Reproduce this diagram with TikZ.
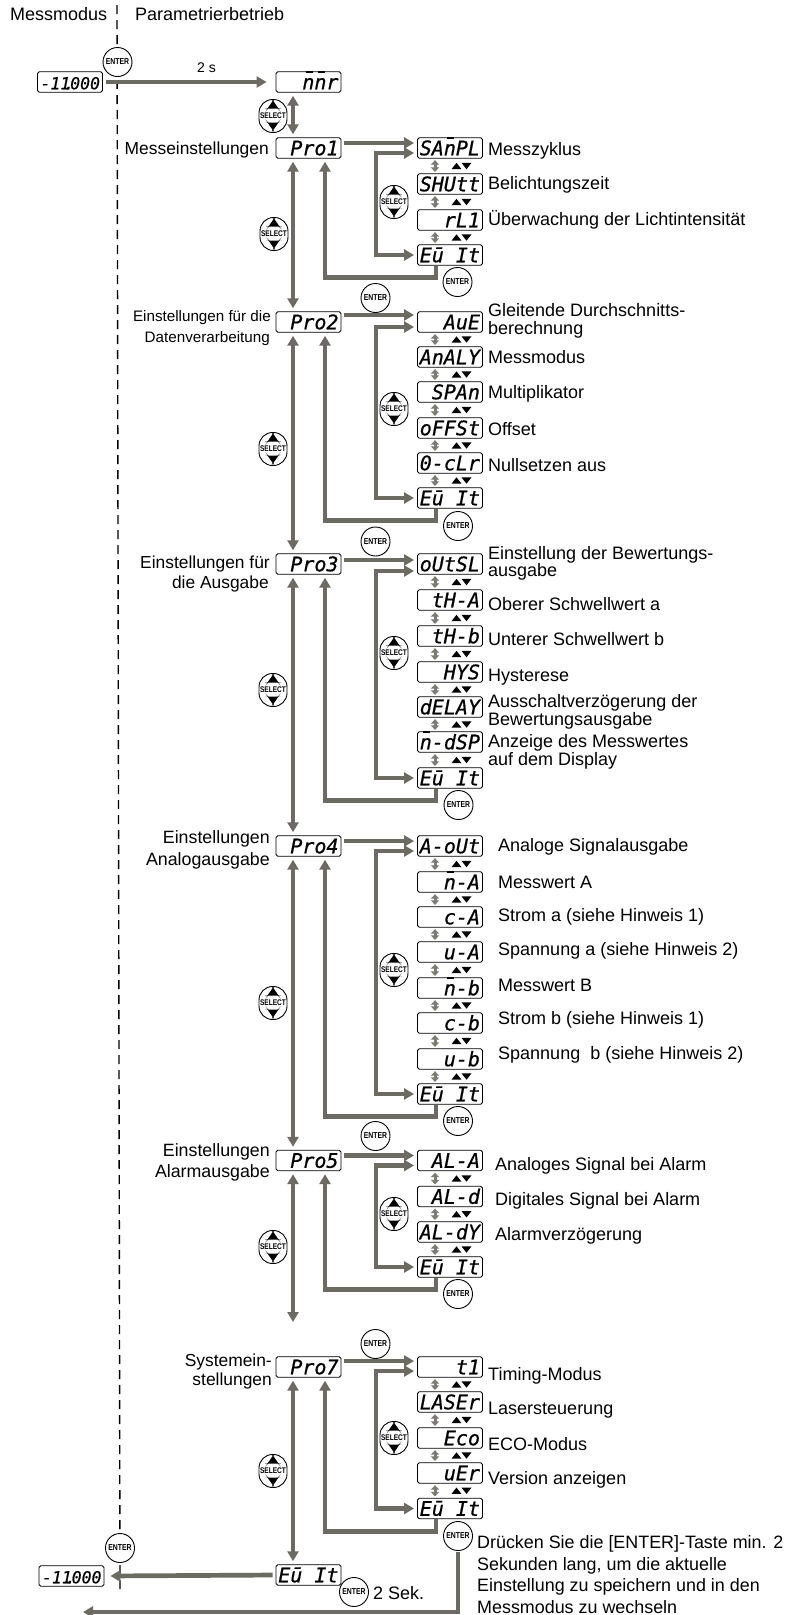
\documentclass[tikz,border=0pt]{standalone}
\usepackage{fontspec}
\usetikzlibrary{arrows.meta,calc}
\setmainfont{Liberation Sans}
\newfontfamily\btnfam[FakeStretch=0.8]{Liberation Sans}
\newfontfamily\dispfam[FakeBold=0.7]{DejaVu Sans Mono}
\newcommand\labfont{\fontsize{18}{17.5}\selectfont}
\newcommand\dispfont{\dispfam\itshape\fontsize{20}{20}\selectfont}
\newcommand\startval{{\fontsize{16.5}{20}\selectfont -11\kern-6pt.\kern-4pt 000}}
\newcommand\dtext[1]{\makebox[60pt][r]{#1}}
\newcommand\nbar{\leavevmode\rlap{\kern3.5pt\rule[16pt]{7pt}{1.8pt}}n}
\definecolor{flowgray}{HTML}{6B6B63}
\definecolor{stepgray}{HTML}{7C7C75}
\tikzset{
  flow/.style={draw=flowgray,line width=4.7pt,shorten >=3pt,shorten <=3pt,
    arrows={-Triangle[length=10pt,width=11pt]}},
  flowboth/.style={flow,arrows={Triangle[length=10pt,width=11pt]-Triangle[length=10pt,width=11pt]}},
  stepflow/.style={draw=stepgray,line width=3pt,shorten >=1.5pt,shorten <=1.5pt,
    arrows={Triangle[length=4.5pt,width=8.5pt]-Triangle[length=4.5pt,width=8.5pt]}},
  dashline/.style={draw=black,line width=1.4pt,dash pattern=on 9pt off 6pt},
  disp/.style={draw=black,line width=.9pt,fill=white,rounded corners=1.8pt,font=\dispfont,
    minimum width=65pt,minimum height=20.5pt,text height=14.5pt,text depth=0pt,
    inner xsep=0pt,inner ysep=2.5pt},
  enterbtn/.style={circle,draw=black,line width=.9pt,fill=white,minimum size=29pt,inner sep=0pt,
    font={\btnfam\bfseries\fontsize{8.6}{9}\selectfont},text=black},
  selectbtn/.style={rectangle,draw=black,line width=.9pt,fill=white,rounded corners=13.5pt,
    minimum width=28pt,minimum height=33pt,inner sep=0pt,
    font={\btnfam\bfseries\fontsize{8.2}{9}\selectfont},
    path picture={
      \fill[black] ([shift={(0pt,15.5pt)}]path picture bounding box.center) -- ++(5.5pt,-8pt) -- ++(-11pt,0pt) -- cycle;
      \fill[black] ([shift={(0pt,-14.5pt)}]path picture bounding box.center) -- ++(5.5pt,8pt) -- ++(-11pt,0pt) -- cycle;
    }},
  lab/.style={font=\labfont,inner sep=0pt,anchor=west,align=left},
  sidelab/.style={inner sep=0pt,anchor=east,align=right,font=\labfont},
  updown/.pic={
    \fill[black] (-10pt,-3.2pt) -- (0pt,-3.2pt) -- (-5pt,3.2pt) -- cycle;
    \fill[black] (0pt,3.2pt) -- (10pt,3.2pt) -- (5pt,-3.2pt) -- cycle;
  }
}
\newcommand\stepnext[2]{%
  \draw[stepflow] ([xshift=-15pt]#1.south) -- ([xshift=-15pt]#2.north);
  \path ($(#1.south)!.5!(#2.north)+(11.5,0)$) pic{updown};}
\newcommand\menuflow[5]{%
  \draw[flow] ([yshift=#4]#1.east) -- ([yshift=#4]#2.west);
  \draw[flowboth] ([yshift=#5]#2.west) -- ++(-41,0) |- (#3.west);
  \draw[flow,shorten <=0pt] ([xshift=-14pt]#3.south) -- ++(0,12) -| ([xshift=16.5pt]#1.south);}
\begin{document}
\begin{tikzpicture}[x=1pt,y=-1pt]
\useasboundingbox (0,0) rectangle (800,1615);
\coordinate (dashtop) at (117,5);
\coordinate (dashbot) at (120,1592);
\draw[dashline] (dashtop) -- (dashbot);

% headings
\node[lab] (hmess) at (10,14) {Messmodus};
\node[lab] (hpara) at (135,14) {Parametrierbetrieb};

% main column
\node[disp] (start) at (70,82) {\dtext{\startval}};
\node[disp] (mmr) at (308.5,82) {\dtext{\nbar\nbar r}};
\node[disp] (pro1) at (308.5,148) {\dtext{Pro1}};
\node[disp] (pro2) at (308.5,322) {\dtext{Pro2}};
\node[disp] (pro3) at (308.5,564) {\dtext{Pro3}};
\node[disp] (pro4) at (308.5,846) {\dtext{Pro4}};
\node[disp] (pro5) at (308.5,1160.5) {\dtext{Pro5}};
\node[disp] (pro7) at (308.5,1367) {\dtext{Pro7}};
\node[disp] (exitmain) at (308.5,1575) {\dtext{Eū It}};
\node[disp] (finish) at (71.5,1576) {\dtext{\startval}};
\coordinate (pro5end) at (293,1322);
\coordinate (farend) at (83,1612);

% Pro1 menu
\node[disp] (a1) at (450,148) {\dtext{SA\nbar PL}};
\node[disp] (a2) at (450,184) {\dtext{SHUtt}};
\node[disp] (a3) at (450,220) {\dtext{rL1}};
\node[disp] (a4) at (450,255) {\dtext{Eū It}};
% Pro2 menu
\node[disp] (b1) at (450,322) {\dtext{AuE}};
\node[disp] (b2) at (450,357) {\dtext{AnALY}};
\node[disp] (b3) at (450,392) {\dtext{SPAn}};
\node[disp] (b4) at (450,428) {\dtext{oFFSt}};
\node[disp] (b5) at (450,463) {\dtext{0-cLr}};
\node[disp] (b6) at (450,498) {\dtext{Eū It}};
% Pro3 menu
\node[disp] (c1) at (450,564) {\dtext{oUtSL}};
\node[disp] (c2) at (450,600) {\dtext{tH-A}};
\node[disp] (c3) at (450,636) {\dtext{tH-b}};
\node[disp] (c4) at (450,672) {\dtext{HYS}};
\node[disp] (c5) at (450,707) {\dtext{dELAY}};
\node[disp] (c6) at (450,742) {\dtext{\nbar -dSP}};
\node[disp] (c7) at (450,778) {\dtext{Eū It}};
% Pro4 menu
\node[disp] (d1) at (450,846) {\dtext{A-oUt}};
\node[disp] (d2) at (450,882) {\dtext{\nbar -A}};
\node[disp] (d3) at (450,917) {\dtext{c-A}};
\node[disp] (d4) at (450,952) {\dtext{u-A}};
\node[disp] (d5) at (450,988) {\dtext{\nbar -b}};
\node[disp] (d6) at (450,1023) {\dtext{c-b}};
\node[disp] (d7) at (450,1059) {\dtext{u-b}};
\node[disp] (d8) at (450,1094) {\dtext{Eū It}};
% Pro5 menu
\node[disp] (e1) at (450,1160.5) {\dtext{AL-A}};
\node[disp] (e2) at (450,1196.5) {\dtext{AL-d}};
\node[disp] (e3) at (450,1232) {\dtext{AL-dY}};
\node[disp] (e4) at (450,1267) {\dtext{Eū It}};
% Pro7 menu
\node[disp] (f1) at (450,1367) {\dtext{t1}};
\node[disp] (f2) at (450,1402) {\dtext{LASEr}};
\node[disp] (f3) at (450,1438) {\dtext{Eco}};
\node[disp] (f4) at (450,1473) {\dtext{uEr}};
\node[disp] (f5) at (450,1508.5) {\dtext{Eū It}};

% connectors
\draw[flow,shorten >=9pt] (start.east) -- (mmr.west);
\draw[flowboth] ([xshift=-15.5pt]mmr.south) -- ([xshift=-15.5pt]pro1.north);
\draw[flowboth] ([xshift=-15.5pt]pro1.south) -- ([xshift=-15.5pt]pro2.north);
\draw[flowboth] ([xshift=-15.5pt]pro2.south) -- ([xshift=-15.5pt]pro3.north);
\draw[flowboth] ([xshift=-15.5pt]pro3.south) -- ([xshift=-15.5pt]pro4.north);
\draw[flowboth] ([xshift=-15.5pt]pro4.south) -- ([xshift=-15.5pt]pro5.north);
\draw[flowboth,shorten >=0pt] ([xshift=-15.5pt]pro5.south) -- (pro5end);
\draw[flowboth] ([xshift=-15.5pt]pro7.south) -- ([xshift=-15.5pt]exitmain.north);
\draw[flow,shorten >=6pt] (exitmain.west) -- (finish.east);

\menuflow{pro1}{a1}{a4}{5pt}{-5pt}
\menuflow{pro2}{b1}{b6}{7pt}{-5pt}
\menuflow{pro3}{c1}{c7}{4pt}{-7pt}
\menuflow{pro4}{d1}{d8}{5pt}{-5pt}
\menuflow{pro5}{e1}{e4}{5pt}{-5pt}
\menuflow{pro7}{f1}{f5}{6pt}{-4pt}

\stepnext{a1}{a2}\stepnext{a2}{a3}\stepnext{a3}{a4}
\stepnext{b1}{b2}\stepnext{b2}{b3}\stepnext{b3}{b4}\stepnext{b4}{b5}\stepnext{b5}{b6}
\stepnext{c1}{c2}\stepnext{c2}{c3}\stepnext{c3}{c4}\stepnext{c4}{c5}\stepnext{c5}{c6}\stepnext{c6}{c7}
\stepnext{d1}{d2}\stepnext{d2}{d3}\stepnext{d3}{d4}\stepnext{d4}{d5}\stepnext{d5}{d6}\stepnext{d6}{d7}\stepnext{d7}{d8}
\stepnext{e1}{e2}\stepnext{e2}{e3}\stepnext{e3}{e4}
\stepnext{f1}{f2}\stepnext{f2}{f3}\stepnext{f3}{f4}\stepnext{f4}{f5}

% buttons
\node[enterbtn] (en0) at (117.5,62) {ENTER};
\node[selectbtn] (s0) at (273,116) {SELECT};
\node[selectbtn] (s1o) at (274,234) {SELECT};
\node[selectbtn] (s1i) at (394,202) {SELECT};
\node[enterbtn] (en1) at (457.5,282) {ENTER};
\node[enterbtn] (en2m) at (375.5,298) {ENTER};
\node[selectbtn] (s2o) at (273,449) {SELECT};
\node[selectbtn] (s2i) at (394,409) {SELECT};
\node[enterbtn] (en2) at (458,526) {ENTER};
\node[enterbtn] (en3m) at (375.5,541.5) {ENTER};
\node[selectbtn] (s3o) at (273,690) {SELECT};
\node[selectbtn] (s3i) at (394,653) {SELECT};
\node[enterbtn] (en3) at (458.5,805) {ENTER};
\node[selectbtn] (s4o) at (273,1003) {SELECT};
\node[selectbtn] (s4i) at (394,970) {SELECT};
\node[enterbtn] (en4) at (458,1121) {ENTER};
\node[enterbtn] (en5m) at (375.5,1136) {ENTER};
\node[selectbtn] (s5o) at (273,1247) {SELECT};
\node[selectbtn] (s5i) at (394,1214) {SELECT};
\node[enterbtn] (en5) at (458,1294) {ENTER};
\node[enterbtn] (en7m) at (375.5,1344) {ENTER};
\node[selectbtn] (s7o) at (273,1471) {SELECT};
\node[selectbtn] (s7i) at (394,1438) {SELECT};
\node[enterbtn] (en7) at (458,1536) {ENTER};
\node[enterbtn] (enb) at (120,1548) {ENTER};
\node[enterbtn] (enx) at (354,1592) {ENTER};
\draw[flow,shorten <=1pt,shorten >=0pt] (en7.south) |- (farend);

% labels
\node[lab] (t2s) at (197,68) {\fontsize{14}{16}\selectfont 2 s};
\node[sidelab,font={\fontsize{17.4}{20}\selectfont}] (l1) at (269,150) {Messeinstellungen};
\node[sidelab,font={\fontsize{15.2}{20.5}\selectfont}] (l2) at (271,328) {Einstellungen für die\\Datenverarbeitung\kern1pt};
\node[sidelab,font={\fontsize{17.4}{20.5}\selectfont}] (l3) at (270,574) {Einstellungen für\\die Ausgabe\kern1pt};
\node[sidelab,font={\fontsize{17.8}{22}\selectfont}] (l4) at (270,849.5) {Einstellungen\\Analogausgabe};
\node[sidelab,font={\fontsize{17.8}{21}\selectfont}] (l5) at (270,1162) {Einstellungen\\Alarmausgabe};
\node[sidelab,font={\fontsize{17.4}{19}\selectfont}] (l7) at (272,1371) {Systemein-\\stellungen};

\node[lab] (t11) at (488,151) {Messzyklus};
\node[lab] (t12) at (488,185) {Belichtungszeit};
\node[lab] (t13) at (488,220) {Überwachung der Lichtintensität};
\node[lab] (t21) at (488,321) {Gleitende Durchschnitts-\\berechnung};
\node[lab] (t22) at (488,357) {Messmodus};
\node[lab] (t23) at (488,394) {Multiplikator};
\node[lab] (t24) at (488,429) {Offset};
\node[lab] (t25) at (488,465) {Nullsetzen aus};
\node[lab] (t31) at (488,563.5) {Einstellung der Bewertungs-\\ausgabe};
\node[lab] (t32) at (488,604) {Oberer Schwellwert a};
\node[lab] (t33) at (488,639) {Unterer Schwellwert b};
\node[lab] (t34) at (488,677) {Hysterese};
\node[lab] (t35) at (488,712) {Ausschaltverzögerung der\\Bewertungsausgabe};
\node[lab] (t36) at (488,752) {Anzeige des Messwertes\\auf dem Display};
\node[lab] (t41) at (498,847) {Analoge Signalausgabe};
\node[lab] (t42) at (498,882) {Messwert A};
\node[lab] (t43) at (498,917) {Strom a (siehe Hinweis 1)};
\node[lab] (t44) at (498,951) {Spannung a (siehe Hinweis 2)};
\node[lab] (t45) at (498,985) {Messwert B};
\node[lab] (t46) at (498,1020) {Strom b (siehe Hinweis 1)};
\node[lab] (t47) at (498,1055) {Spannung\ \ b (siehe Hinweis 2)};
\node[lab] (t51) at (495,1166) {Analoges Signal bei Alarm};
\node[lab] (t52) at (495,1201) {Digitales Signal bei Alarm};
\node[lab] (t53) at (495,1236) {Alarmverzögerung};
\node[lab] (t71) at (488,1376) {Timing-Modus};
\node[lab] (t72) at (488,1410) {Lasersteuerung};
\node[lab] (t73) at (488,1444) {ECO-Modus};
\node[lab] (t74) at (488,1480) {Version anzeigen};
\node[lab,font={\fontsize{17.9}{21.5}\selectfont}] (t75) at (477,1574.5) {Drücken Sie die [ENTER]-Taste min. 2\\Sekunden lang, um die aktuelle\\Einstellung zu speichern und in den\\Messmodus zu wechseln};
\node[lab] (t76) at (373,1593) {2 Sek.};
\end{tikzpicture}
\end{document}
